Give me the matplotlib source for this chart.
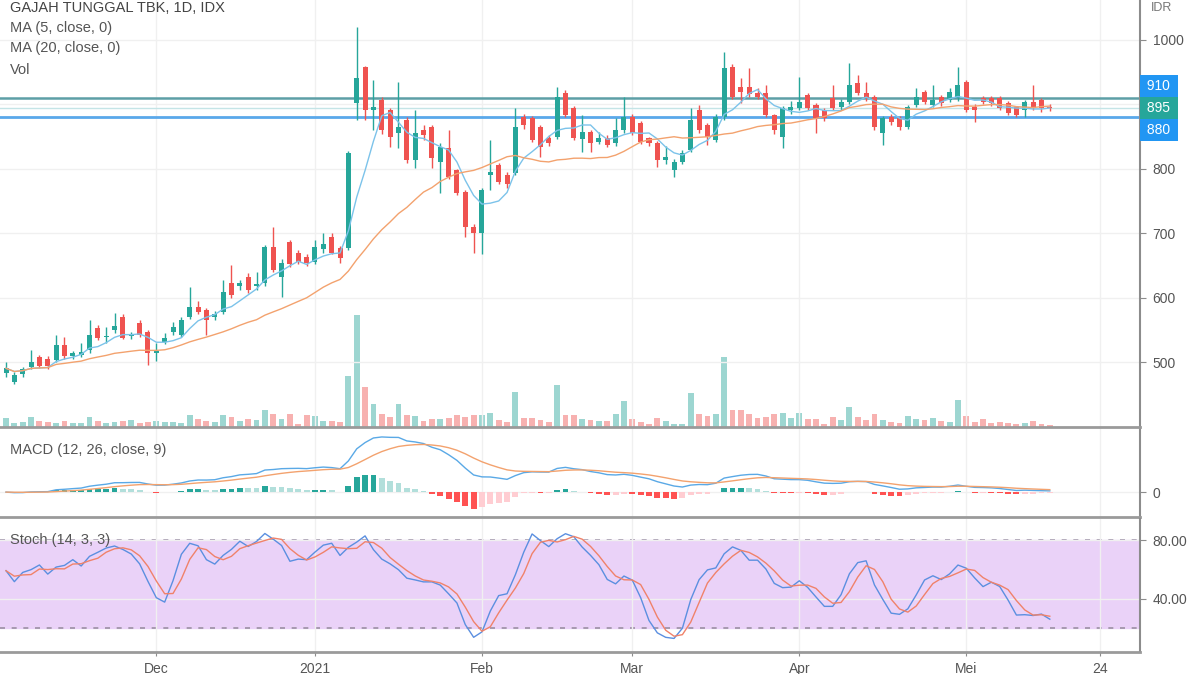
import numpy as np
import pandas as pd
import matplotlib
matplotlib.use('Agg')
import matplotlib.pyplot as plt

plt.rcParams['font.family'] = ['Liberation Sans', 'DejaVu Sans']

title = 'GAJAH TUNGGAL TBK, 1D, IDX'

# daily bars, Nov 2020 - May 2021
opens = [483, 470, 482, 493, 508, 505, 504, 527, 510, 512, 519, 554, 539, 550, 571, 541, 561, 547, 514, 532,
         547, 543, 571, 586, 581, 570, 578, 623, 618, 633, 618, 623, 679, 633, 687, 670, 663, 656, 676, 695,
         677, 678, 902, 958, 891, 907, 891, 856, 876, 814, 860, 865, 811, 832, 798, 764, 710, 700, 790, 806,
         791, 794, 881, 879, 865, 848, 850, 918, 894, 846, 857, 842, 848, 840, 860, 881, 871, 848, 840, 814,
         798, 811, 830, 891, 868, 845, 881, 958, 927, 927, 918, 918, 884, 850, 891, 895, 915, 899, 891, 910,
         896, 904, 933, 918, 912, 856, 881, 879, 865, 899, 919, 899, 912, 907, 910, 935, 896, 910, 910, 910,
         902, 896, 891, 904, 907, 896]
highs = [500, 485, 493, 520, 512, 510, 543, 540, 518, 530, 566, 558, 555, 577, 575, 548, 566, 550, 530, 546,
         563, 570, 617, 595, 584, 580, 628, 651, 628, 638, 640, 682, 710, 660, 690, 675, 668, 690, 701, 700,
         680, 828, 1020, 960, 938, 912, 895, 935, 880, 891, 868, 868, 840, 860, 800, 768, 715, 770, 845, 810,
         795, 895, 885, 882, 868, 852, 927, 922, 897, 884, 860, 858, 852, 879, 912, 885, 874, 850, 843, 835,
         815, 830, 895, 899, 872, 886, 981, 962, 941, 957, 925, 930, 886, 898, 905, 943, 918, 902, 894, 930,
         908, 964, 946, 935, 915, 882, 885, 882, 899, 926, 922, 930, 915, 926, 958, 938, 900, 913, 913, 913,
         905, 898, 907, 930, 910, 900]
lows = [478, 466, 478, 490, 491, 490, 500, 505, 506, 509, 515, 535, 530, 545, 536, 536, 540, 496, 502, 528,
        543, 540, 568, 575, 543, 566, 575, 600, 612, 608, 612, 618, 640, 602, 648, 652, 650, 652, 670, 668,
        655, 675, 876, 876, 860, 855, 834, 832, 810, 802, 845, 802, 763, 785, 760, 695, 670, 668, 768, 776,
        770, 790, 862, 842, 819, 836, 846, 880, 845, 826, 826, 838, 834, 836, 856, 852, 838, 835, 803, 808,
        788, 808, 826, 856, 837, 842, 876, 908, 902, 912, 908, 880, 855, 833, 885, 892, 892, 856, 875, 892,
        892, 900, 915, 906, 860, 837, 868, 860, 862, 896, 900, 896, 898, 904, 906, 888, 873, 900, 898, 892,
        884, 880, 880, 892, 888, 890]
closes = [491, 481, 490, 501, 495, 494, 527, 510, 515, 517, 543, 538, 541, 556, 538, 543, 543, 515, 518, 538,
          555, 566, 586, 578, 566, 575, 609, 605, 623, 612, 621, 679, 643, 655, 652, 656, 654, 679, 684, 670,
          662, 825, 941, 891, 896, 860, 850, 865, 814, 856, 852, 817, 834, 788, 763, 710, 700, 767, 795, 780,
          776, 865, 868, 845, 834, 840, 912, 884, 848, 857, 840, 848, 837, 860, 881, 856, 842, 840, 814, 818,
          811, 825, 876, 860, 850, 881, 956, 912, 919, 917, 912, 884, 860, 895, 896, 904, 895, 879, 879, 895,
          904, 930, 918, 910, 865, 879, 873, 865, 896, 912, 904, 907, 902, 919, 930, 891, 891, 904, 902, 895,
          887, 884, 904, 895, 895, 895]
volumes = [9, 4, 5, 10, 6, 5, 4, 6, 4, 4, 10, 6, 4, 5, 6, 7, 4, 5, 6, 5,
           5, 4, 12, 8, 6, 5, 12, 10, 6, 8, 7, 17, 13, 8, 13, 3, 12, 11, 6, 6,
           5, 50, 110, 39, 23, 13, 10, 23, 12, 11, 6, 8, 8, 9, 12, 10, 12, 12, 14, 7,
           5, 34, 9, 9, 7, 5, 41, 12, 12, 8, 7, 6, 6, 13, 26, 8, 5, 3, 9, 6,
           3, 3, 33, 13, 11, 13, 69, 17, 17, 13, 9, 10, 13, 14, 9, 14, 8, 8, 3, 10,
           7, 20, 10, 7, 13, 7, 5, 4, 11, 8, 7, 9, 6, 5, 27, 11, 5, 8, 4, 5,
           4, 3, 4, 6, 3, 2]

tick_idx = [18, 37, 57, 75, 95, 115, 131]
tick_labels = ['Dec', '2021', 'Feb', 'Mar', 'Apr', 'Mei', '24']
price_ticks = [500, 600, 700, 800, 900, 1000]
levels = [910, 895, 880]
level_box = ['#2196f3', '#26a69a', '#2196f3']

GREEN = '#26a69a'
RED = '#ef5350'
TXT = '#555555'
AXC = '#8c8c8c'

df = pd.DataFrame({'open': opens, 'high': highs, 'low': lows, 'close': closes, 'vol': volumes})
x = np.arange(len(df))
up = df['close'] >= df['open']
col = np.where(up, GREEN, RED)

ma5 = df['close'].rolling(5, min_periods=1).mean()
ma20 = df['close'].rolling(20, min_periods=1).mean()

ema12 = df['close'].ewm(span=12, adjust=False).mean()
ema26 = df['close'].ewm(span=26, adjust=False).mean()
macd = ema12 - ema26
signal = macd.ewm(span=9, adjust=False).mean()
hist = macd - signal
prev = hist.shift(1).fillna(0)
hcol = np.where(hist >= 0,
                np.where(hist >= prev, '#26a69a', '#b2dfdb'),
                np.where(hist < prev, '#ff5252', '#ffcdd2'))

ll = df['low'].rolling(14, min_periods=1).min()
hh = df['high'].rolling(14, min_periods=1).max()
k = (100 * (df['close'] - ll) / (hh - ll)).rolling(3, min_periods=1).mean()
d = k.rolling(3, min_periods=1).mean()

fig = plt.figure(figsize=(12, 6.74), dpi=100)
ax = fig.add_axes([0, 0.3665, 0.95, 0.6335])
ax_m = fig.add_axes([0, 0.2329, 0.95, 0.1320], sharex=ax)
ax_s = fig.add_axes([0, 0.0326, 0.95, 0.1973], sharex=ax)

# volume underneath the candles
ax_v = ax.twinx()
ax_v.bar(x, df['vol'], width=0.7, color=col, alpha=0.45, zorder=1)
ax_v.set_ylim(0, df['vol'].max() / 0.262)
ax_v.axis('off')
ax.set_zorder(ax_v.get_zorder() + 1)
ax.patch.set_visible(False)

# candles
body_lo = np.minimum(df['open'], df['close'])
body_h = np.maximum((df['close'] - df['open']).abs(), 1.5)
ax.vlines(x, df['low'], df['high'], color=col, lw=1, zorder=3)
ax.bar(x, body_h, bottom=body_lo, width=0.6, color=col, zorder=4)
ax.plot(x, ma5, color='#7cc3ea', lw=1, zorder=5)
ax.plot(x, ma20, color='#f3a26e', lw=1, zorder=5)

ax.axhline(levels[0], color='#5d9fa6', lw=1.8, zorder=2)
ax.axhline(levels[1], color='#c4e4e6', lw=1, zorder=2)
ax.axhline(levels[2], color='#5aa8ea', lw=2, zorder=2)
for lv, off, fc in zip(levels, [19, 0, -19], level_box):
    ax.text(1.003, lv + off, ' %d ' % lv, transform=ax.get_yaxis_transform(), ha='left', va='center',
            color='white', fontsize=10, clip_on=False, zorder=10,
            bbox=dict(boxstyle='square,pad=0.28', fc=fc, ec='none'))

ax.set_xlim(-0.72, 135.8)
ax.set_ylim(400, 1062)
ax.set_yticks(price_ticks)
ax.set_yticklabels(['' if p == 900 else str(p) for p in price_ticks])

# MACD
ax_m.bar(x, hist, width=0.7, color=hcol, zorder=2)
ax_m.plot(x, macd, color='#5aa9e6', lw=1, zorder=3)
ax_m.plot(x, signal, color='#f3a26e', lw=1, zorder=3)
rng = macd.max() / 0.62
ax_m.set_ylim(-0.28 * rng, 0.72 * rng)
ax_m.set_yticks([0])
ax_m.set_yticklabels(['0'])

# Stochastic
ax_s.axhspan(20, 80, color='#ead2f8', zorder=0)
for lv in [20, 80]:
    ax_s.axhline(lv, color='#9b8fa3', lw=1.2, dashes=(3, 4), zorder=1)
ax_s.plot(x, k, color='#5b8fe0', lw=1, zorder=3)
ax_s.plot(x, d, color='#f0826a', lw=1, zorder=3)
ax_s.set_ylim(3.4, 94.5)
ax_s.set_yticks([40, 80])
ax_s.set_yticklabels(['40.00', '80.00'])

ax_s.set_xticks(tick_idx)
ax_s.set_xticklabels(tick_labels)

for a in (ax, ax_m, ax_s):
    a.yaxis.tick_right()
    a.tick_params(axis='y', direction='out', length=4, color=AXC, labelcolor=TXT, labelsize=10, pad=5)
    a.grid(True, color='#f0f0f0', lw=1, zorder=0)
    a.spines['left'].set_visible(False)
    a.spines['top'].set_visible(False)
    a.spines['right'].set_color(AXC)
    a.spines['right'].set_linewidth(1.5)
    a.spines['bottom'].set_color('#9a9a9a')
    a.spines['bottom'].set_linewidth(2)
for a in (ax, ax_m):
    a.tick_params(axis='x', length=0, labelbottom=False)
ax_s.tick_params(axis='x', direction='out', length=3, color=AXC, labelcolor=TXT, labelsize=10, pad=4)

# legend texts
ax.text(0.009, 1 - 8 / 427, title, transform=ax.transAxes, fontsize=10.5, color='#444444', va='center')
for t, yp in [('MA (5, close, 0)', 28), ('MA (20, close, 0)', 48), ('Vol', 70)]:
    ax.text(0.009, 1 - yp / 427, t, transform=ax.transAxes, fontsize=10.5, color=TXT, va='center')
ax_m.text(0.009, 1 - 22 / 89, 'MACD (12, 26, close, 9)', transform=ax_m.transAxes, fontsize=10.5,
          color=TXT, va='center')
ax_s.text(0.009, 1 - 21 / 133, 'Stoch (14, 3, 3)', transform=ax_s.transAxes, fontsize=10.5,
          color=TXT, va='center')
fig.text(0.968, 1 - 8 / 674, 'IDR', fontsize=9, color='#777777', va='center', ha='center')

fig.savefig('out.png', dpi=100)
